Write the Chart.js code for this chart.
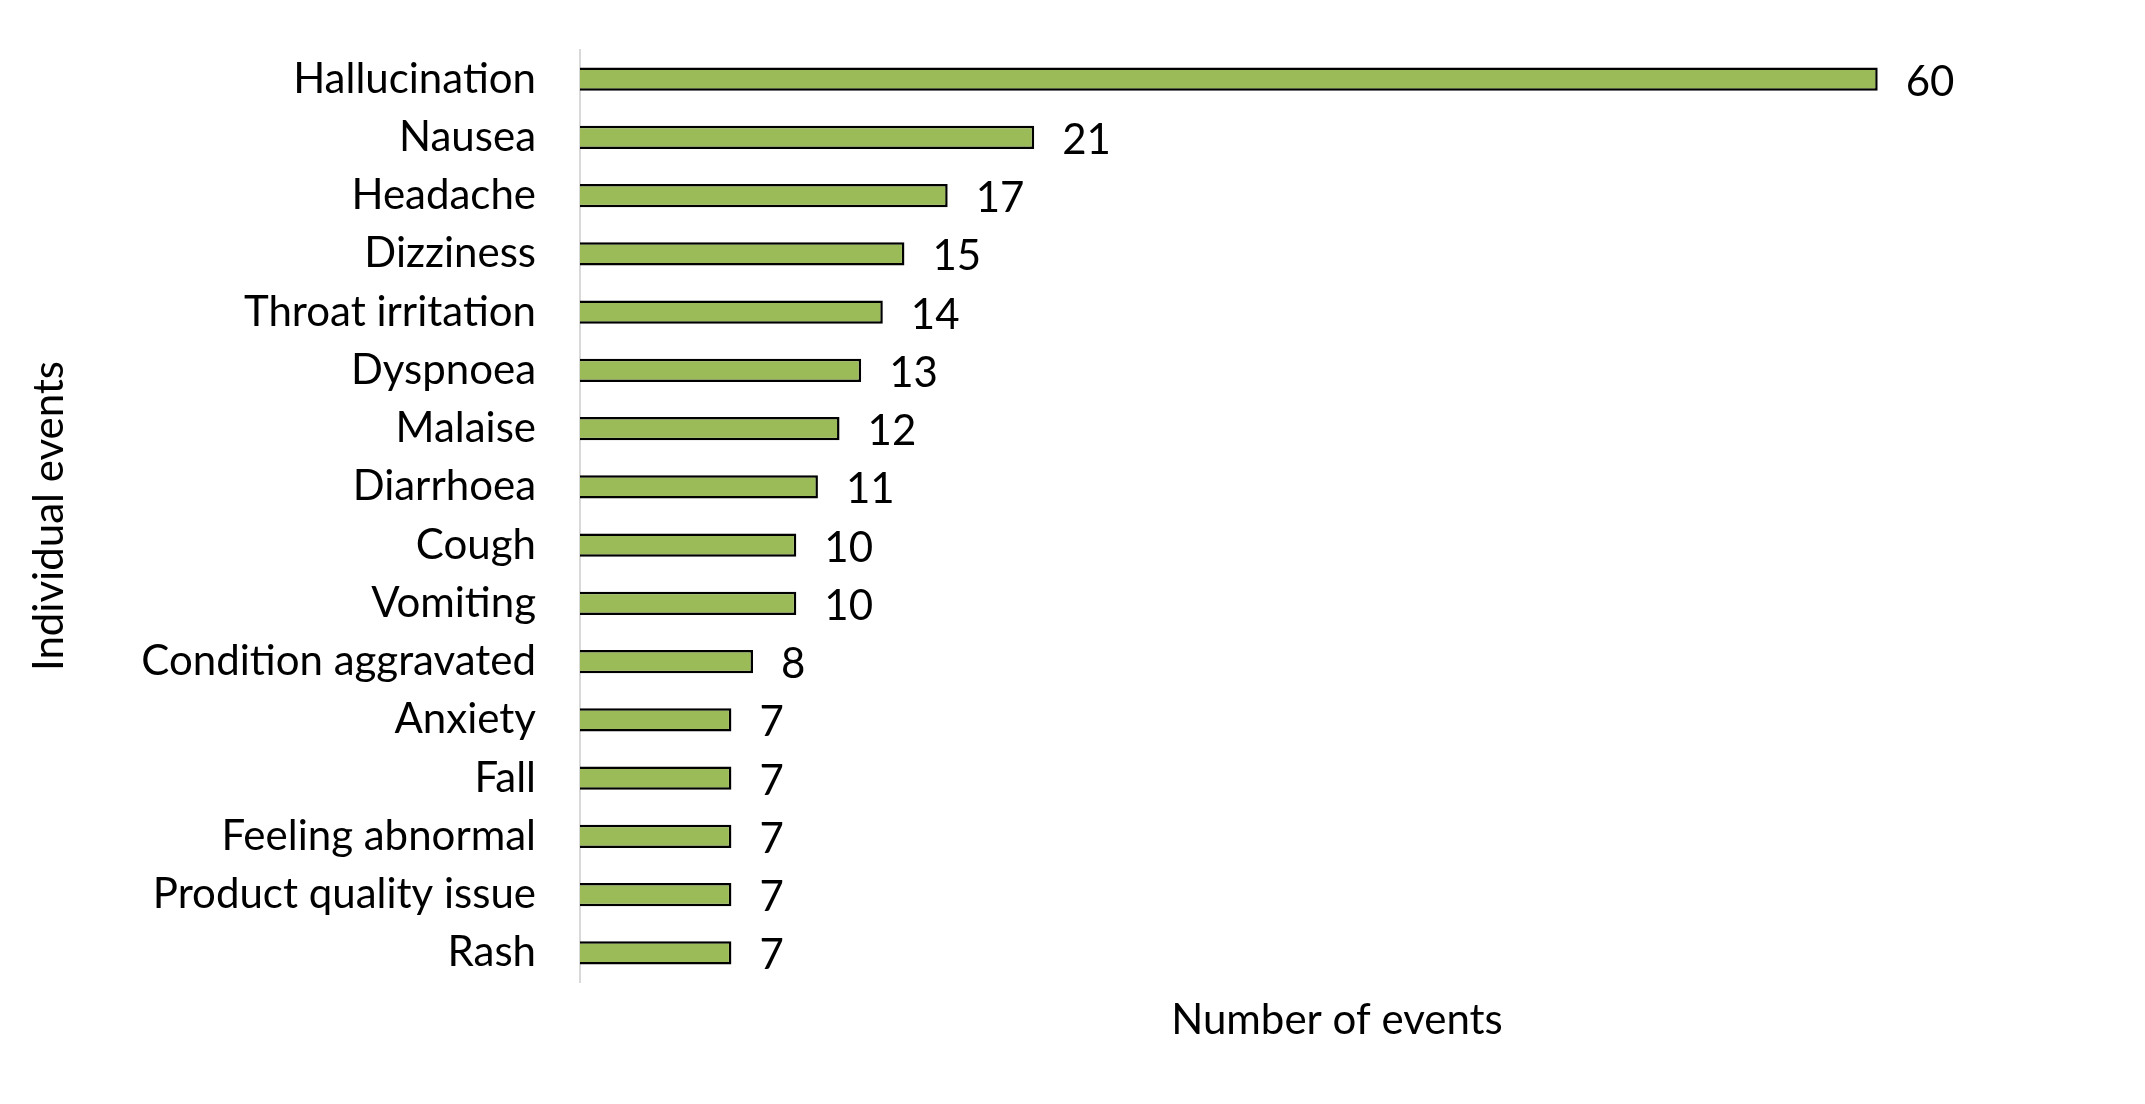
<!DOCTYPE html>
<html>
<head>
<meta charset="utf-8">
<script src="https://cdn.jsdelivr.net/npm/chart.js@4/dist/chart.umd.min.js"></script>
<style>
html,body{margin:0;padding:0;background:#fff;}
#wrap{width:2145px;height:1104px;position:relative;}
</style>
</head>
<body>
<div id="wrap"><canvas id="c" width="2145" height="1104"></canvas></div>
<script>
const categories = ["Hallucination","Nausea","Headache","Dizziness","Throat irritation","Dyspnoea","Malaise","Diarrhoea","Cough","Vomiting","Condition aggravated","Anxiety","Fall","Feeling abnormal","Product quality issue","Rash"];
const eventCounts = [60,21,17,15,14,13,12,11,10,10,8,7,7,7,7,7];
const xAxisTitle = "Number of events";
const yAxisTitle = "Individual events";

const FONT = "Lato";
const FS = 42;

const valueLabels = {
  id: 'valueLabels',
  afterDatasetsDraw(chart) {
    const ctx = chart.ctx;
    const meta = chart.getDatasetMeta(0);
    ctx.save();
    ctx.font = FS + "px " + FONT;
    ctx.fillStyle = "#000";
    ctx.textAlign = "left";
    ctx.textBaseline = "middle";
    meta.data.forEach((bar, i) => {
      ctx.fillText(String(chart.data.datasets[0].data[i]), bar.x + 28, bar.y + 3);
    });
    ctx.restore();
  }
};

new Chart(document.getElementById('c'), {
  type: 'bar',
  data: {
    labels: categories,
    datasets: [{
      data: eventCounts,
      backgroundColor: '#9BBB59',
      borderColor: '#000000',
      borderWidth: 2.5,
      categoryPercentage: 1,
      barPercentage: 0.4
    }]
  },
  options: {
    indexAxis: 'y',
    responsive: false,
    animation: false,
    layout: { padding: { left: 10, top: 50, right: 51, bottom: 0 } },
    plugins: { legend: { display: false }, tooltip: { enabled: false } },
    scales: {
      x: {
        min: 0, max: 70,
        ticks: { display: false },
        grid: { display: false, drawTicks: false },
        border: { display: false },
        title: { display: true, text: xAxisTitle, color: '#000', font: { family: FONT, size: FS }, padding: { top: 0, bottom: 58 } },
        afterFit(scale) { scale.height = 122; scale.paddingLeft = 0; scale.paddingRight = 0; }
      },
      y: {
        ticks: { color: '#000', font: { family: FONT, size: FS }, padding: 44, autoSkip: false },
        grid: { display: false, drawTicks: false },
        border: { display: true, color: '#d9d9d9', width: 2 },
        title: { display: true, text: yAxisTitle, color: '#000', font: { family: FONT, size: FS }, padding: { top: 14, bottom: 0 } },
        afterFit(scale) { scale.width = 570; scale.paddingTop = 0; scale.paddingBottom = 0; }
      }
    }
  },
  plugins: [valueLabels]
});
</script>
</body>
</html>
